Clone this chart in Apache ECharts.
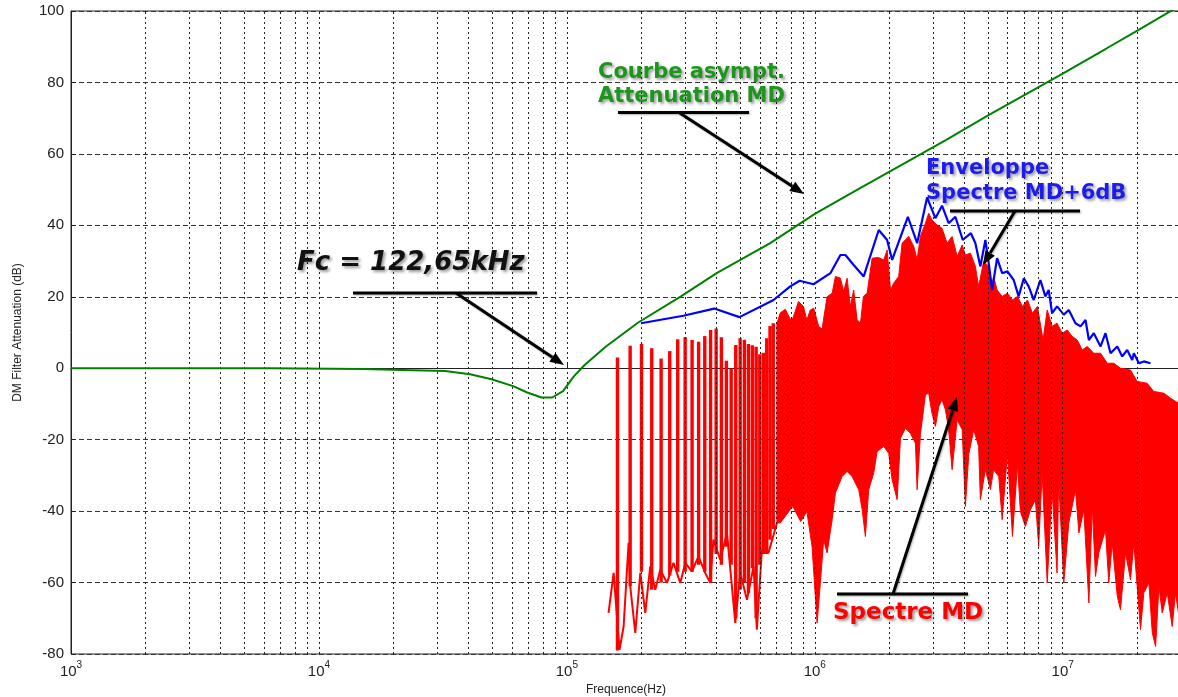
<!DOCTYPE html>
<html><head><meta charset="utf-8">
<script src="https://cdn.jsdelivr.net/npm/echarts@6/dist/echarts.min.js"></script>
<style>html,body{margin:0;padding:0;background:#fff}#c{width:1178px;height:697px}</style>
</head><body><div id="c"></div><script>
// ---- data (frequency in Hz, level in dB) ----
const xTickExponents = [3, 4, 5, 6, 7];
const yTicks = [-80, -60, -40, -20, 0, 20, 40, 60, 80, 100];

const greenFreq = [1000, 6350, 15060, 21680, 32300, 40700, 49700, 60700, 69200, 79000, 87300, 96500, 106700, 117900, 143800, 194000, 288500, 402000, 661000, 1000000, 1530000, 3390000, 5000000, 10000000, 15000000, 20000000, 26700000, 30000000];
const greenVal  = [0, 0, -0.2, -0.5, -0.8, -1.7, -3.1, -5.0, -6.8, -8.2, -8.2, -6.4, -2.3, 0.9, 6.1, 12.8, 20.1, 26.6, 35.0, 43.2, 50.5, 63.9, 70.8, 82.5, 89.5, 94.5, 99.6, 101.5];

const blueFreq = [199000, 295000, 393000, 497000, 682000, 796000, 869000, 988000, 1156000, 1269000, 1329000, 1435000, 1575000, 1811000, 1958000, 2051000, 2374000, 2587000, 2838000, 3065000, 3260000, 3468000, 3690000, 3953000, 4263000, 4444000, 4655000, 4876000, 5030000, 5190000, 5437000, 5700000, 5985000, 6344000, 6640000, 6970000, 7290000, 7640000, 8130000, 8510000, 8780000, 9060000, 9490000, 10100000, 10580000, 11260000, 11800000, 12360000, 12750000, 13350000, 14210000, 14880000, 15590000, 16600000, 17380000, 18200000, 19070000, 19360000, 20300000, 21240000, 22600000];
const blueVal  = [12.6, 14.7, 16.7, 14.3, 19.1, 22.9, 24.5, 23.5, 26.6, 31.7, 31.7, 28.9, 25.7, 38.7, 35.9, 30.3, 42.4, 35.0, 47.8, 42.0, 45.5, 40.6, 42.4, 35.9, 37.8, 35.0, 28.5, 35.9, 29.4, 21.9, 30.8, 26.6, 27.1, 24.7, 20.1, 25.2, 22.9, 19.1, 24.7, 20.1, 21.9, 15.4, 17.3, 15.0, 16.3, 12.6, 11.7, 13.5, 7.9, 9.8, 6.1, 9.8, 4.2, 6.1, 3.3, 5.1, 2.3, 4.2, 1.4, 1.9, 1.4];

// red spectrum: individual harmonics (20 kHz spacing) in the low band
const spikeFreq   = [160000, 180000, 200000, 220000, 240000, 260000, 280000, 300000, 320000, 340000, 360000, 380000, 400000, 420000, 440000, 460000, 480000, 500000, 520000, 540000, 560000, 580000, 600000, 620000, 640000, 660000, 680000];
const spikeTop    = [3.0, 6.3, 6.8, 5.6, 2.7, 4.8, 8.1, 8.7, 7.9, 7.4, 9.0, 10.7, 11.1, 8.7, 2.1, -0.1, 6.5, 8.4, 8.0, 6.8, 6.4, 6.0, 3.9, 4.3, 8.4, 11.8, 12.6];
const spikeBottom = [-79, -61, -57, -62, -60, -58, -57, -57, -57, -55, -57, -60, -52, -55, -50, -55, -70, -62, -60, -63, -56, -70, -55, -52, -52, -48, -45];

// red spectrum: noise floor in the low band
const floorFreq = [147300, 154400, 163100, 169400, 177400, 180200, 188800, 197800, 207100, 216900, 227300, 238100, 253400, 269300, 286700, 300300, 319300, 339500, 361500, 378700, 390000, 415700, 442300, 478000, 500600, 532600, 566400, 584000, 611800, 650300, 703500];
const floorVal  = [-68.5, -57.3, -78.8, -72.3, -48.9, -61.1, -74.1, -57.3, -68.5, -55.5, -62.0, -56.4, -60.1, -54.5, -60.1, -54.5, -56.9, -52.7, -57.3, -60.1, -48.0, -53.6, -46.1, -71.3, -57.3, -64.8, -55.5, -73.2, -50.8, -51.7, -43.3];

// red spectrum: dense band, upper and lower envelopes
const denseTopFreq = [703500, 726000, 761000, 796000, 816000, 860000, 900000, 929000, 959000, 990000, 1037000, 1070000, 1121000, 1175000, 1211000, 1269000, 1308000, 1350000, 1392000, 1435000, 1482000, 1528000, 1571000, 1626000, 1703000, 1805000, 1897000, 1958000, 2020000, 2080000, 2180000, 2250000, 2393000, 2510000, 2587000, 2666000, 2795000, 2880000, 2970000, 3115000, 3260000, 3417000, 3580000, 3752000, 3932000, 4050000, 4245000, 4444000, 4580000, 4800000, 5030000, 5190000, 5260000, 5437000, 5700000, 5985000, 6270000, 6570000, 6880000, 7210000, 7550000, 7910000, 8330000, 8660000, 9060000, 9490000, 9950000, 10430000, 10920000, 11440000, 11990000, 12560000, 13350000, 14210000, 15130000, 16080000, 17100000, 18770000, 19970000, 21900000, 23300000, 25600000, 27250000, 29300000, 30000000];
const denseTopVal  = [12.6, 15.5, 16.5, 13.7, 14.0, 18.7, 17.3, 13.5, 16.3, 16.8, 11.7, 11.0, 20.0, 21.0, 25.7, 25.2, 21.5, 25.2, 17.3, 21.9, 13.5, 12.6, 20.1, 21.0, 30.8, 31.0, 30.3, 33.1, 21.9, 23.8, 25.7, 35.0, 36.9, 34.0, 30.3, 36.9, 40.6, 43.4, 41.5, 40.1, 39.2, 35.0, 36.9, 31.3, 34.5, 31.7, 32.2, 28.5, 22.9, 29.9, 28.5, 22.9, 25.7, 21.9, 20.1, 21.0, 19.1, 20.1, 17.3, 19.1, 15.4, 17.3, 7.9, 16.3, 11.7, 12.6, 9.8, 10.7, 8.9, 7.9, 5.1, 6.1, 4.2, 4.2, 1.4, 1.4, 0.0, -0.5, -3.7, -4.2, -6.5, -7.0, -8.4, -9.8, -10.0];
const denseBotFreq = [703500, 726000, 796000, 816000, 877000, 929000, 975000, 1022000, 1053000, 1086000, 1121000, 1175000, 1211000, 1289000, 1350000, 1414000, 1504000, 1553000, 1600000, 1650000, 1729000, 1784000, 1897000, 1987000, 2051000, 2149000, 2216000, 2320000, 2430000, 2547000, 2587000, 2666000, 2795000, 2880000, 2970000, 3065000, 3163000, 3260000, 3364000, 3468000, 3580000, 3752000, 3932000, 4050000, 4180000, 4375000, 4580000, 4655000, 4876000, 5110000, 5260000, 5520000, 5700000, 5985000, 6270000, 6570000, 6750000, 7070000, 7410000, 7760000, 8000000, 8260000, 8660000, 9060000, 9490000, 9630000, 10100000, 10580000, 11260000, 11620000, 12170000, 12750000, 13160000, 13560000, 13980000, 14880000, 15340000, 15840000, 16600000, 17100000, 17920000, 18770000, 19360000, 19970000, 20600000, 21240000, 22260000, 22980000, 23700000, 24440000, 25200000, 26400000, 27650000, 28500000, 29300000, 30000000];
const denseBotVal  = [-43.3, -43.3, -39.6, -38.7, -42.9, -40.1, -49.9, -71.3, -60.1, -48.0, -51.7, -42.4, -34.9, -30.3, -28.9, -30.3, -34.0, -39.6, -47.1, -34.0, -29.3, -23.3, -21.9, -23.8, -31.2, -36.8, -19.6, -16.8, -18.2, -21.0, -34.0, -18.6, -7.4, -7.0, -12.6, -16.3, -10.7, -8.8, -11.6, -17.2, -28.4, -14.4, -17.2, -38.7, -24.0, -17.2, -21.9, -36.8, -28.4, -34.0, -28.4, -30.3, -42.4, -23.8, -47.1, -27.0, -40.1, -44.3, -39.6, -36.8, -49.9, -29.3, -60.1, -34.0, -57.3, -31.2, -60.1, -43.3, -34.0, -46.1, -39.6, -65.7, -38.7, -58.3, -51.7, -45.2, -60.1, -48.9, -63.8, -67.6, -51.7, -59.2, -48.9, -61.1, -73.2, -62.9, -60.1, -74.1, -77.9, -61.1, -68.5, -62.9, -72.3, -62.9, -68.5, -66.0];

// ---- build ----
const pairs = (a, b) => a.slice(0, Math.min(a.length, b.length)).map((v, i) => [v, b[i]]);
const gridFreqs = [];
for (let e = 3; e <= 7; e++) for (let m = 1; m <= 9; m++) { const f = m * Math.pow(10, e); if (f > 1000 && f < 3e7) gridFreqs.push(f); }

const chart = echarts.init(document.getElementById('c'), null, {renderer: 'canvas'});
const FONT = '"Liberation Sans", Arial, sans-serif';
const LBL = '"DejaVu Sans", Verdana, sans-serif';

function arrow(x1, y1, x2, y2) {
  const a = Math.atan2(y2 - y1, x2 - x1), L = 14, H = 5.5;
  const bx = x2 - L * Math.cos(a), by = y2 - L * Math.sin(a);
  const px = -Math.sin(a) * H, py = Math.cos(a) * H;
  return [
    {type: 'line', z: 100, shape: {x1, y1, x2: bx, y2: by}, style: {stroke: '#000', lineWidth: 3, shadowColor: 'rgba(0,0,0,0.3)', shadowBlur: 2, shadowOffsetX: 1, shadowOffsetY: 1}},
    {type: 'polygon', z: 100, shape: {points: [[x2, y2], [bx + px, by + py], [bx - px, by - py]]}, style: {fill: '#000'}}
  ];
}
function hline(x1, x2, y) {
  return {type: 'line', z: 100, shape: {x1, y1: y, x2, y2: y}, style: {stroke: '#000', lineWidth: 3, shadowColor: 'rgba(0,0,0,0.3)', shadowBlur: 2, shadowOffsetX: 1, shadowOffsetY: 1}};
}
function label(x, y, text, font, color) {
  return {type: 'text', z: 101, x, y, style: {text, font, fill: color, align: 'left', verticalAlign: 'middle',
    textShadowColor: 'rgba(0,0,0,0.4)', textShadowBlur: 3, textShadowOffsetX: 2, textShadowOffsetY: 2}};
}

const option = {
  animation: false,
  backgroundColor: '#fff',
  grid: {left: 71, right: -3, top: 11, bottom: 43, show: true, borderColor: '#222', borderWidth: 1, containLabel: false, outerBoundsMode: 'none'},
  xAxis: {
    type: 'log', logBase: 10, min: 1000, max: 3e7,
    axisLine: {show: true, lineStyle: {color: '#222', width: 1}},
    axisTick: {show: true, inside: true, length: 5, lineStyle: {color: '#222'}},
    splitLine: {show: false},
    axisLabel: {
      margin: 6, color: '#222',
      formatter: function (v) {
        const e = Math.round(Math.log10(v));
        if (Math.abs(Math.log10(v) - e) > 1e-6 || xTickExponents.indexOf(e) < 0) return '';
        return '{a|10}{b|' + e + '}';
      },
      rich: {
        a: {fontSize: 15, fontFamily: FONT, color: '#222', verticalAlign: 'bottom'},
        b: {fontSize: 10, fontFamily: FONT, color: '#222', verticalAlign: 'bottom', padding: [0, 0, 9, 0]}
      }
    },
    name: 'Frequence(Hz)', nameLocation: 'middle', nameGap: 27,
    nameTextStyle: {fontFamily: FONT, fontSize: 12, color: '#222'}
  },
  yAxis: {
    type: 'value', min: yTicks[0], max: yTicks[yTicks.length - 1], interval: yTicks[1] - yTicks[0],
    axisLine: {show: true, lineStyle: {color: '#222', width: 1}},
    axisTick: {show: true, inside: true, length: 5, lineStyle: {color: '#222'}},
    splitLine: {show: true, lineStyle: {color: '#333', width: 1, type: [5, 3]}},
    axisLabel: {fontSize: 15, fontFamily: FONT, color: '#222', margin: 7},
    name: 'DM Filter Attenuation (dB)', nameLocation: 'middle', nameGap: 47,
    nameTextStyle: {fontFamily: FONT, fontSize: 12, color: '#222'}
  },
  series: [
    {type: 'line', z: 1, silent: true, data: [[1000, -80]], symbol: 'none', lineStyle: {opacity: 0},
     markLine: {silent: true, symbol: ['none', 'none'], label: {show: false}, animation: false,
       lineStyle: {color: '#222', type: [2, 3], width: 1},
       data: gridFreqs.map(f => ({xAxis: f}))}},
    {type: 'line', z: 3, data: pairs(floorFreq, floorVal), symbol: 'none', lineStyle: {color: '#ff0000', width: 2}},
    {type: 'custom', z: 3, clip: true, data: spikeFreq.map((f, i) => [f, spikeTop[i], spikeBottom[i]]),
     encode: {x: 0, y: [1, 2]},
     renderItem: function (params, api) {
       const p1 = api.coord([api.value(0), api.value(1)]);
       const p2 = api.coord([api.value(0), api.value(2)]);
       return {type: 'line', shape: {x1: p1[0], y1: p1[1], x2: p2[0], y2: p2[1]}, style: {stroke: '#ff0000', lineWidth: 3.4}};
     }},
    {type: 'custom', z: 3, clip: true, data: [[denseTopFreq[0], denseTopVal[0]]],
     renderItem: function (params, api) {
       const top = pairs(denseTopFreq, denseTopVal).map(p => api.coord(p));
       const bot = pairs(denseBotFreq, denseBotVal).map(p => api.coord(p)).reverse();
       return {type: 'polygon', shape: {points: top.concat(bot)}, style: {fill: '#ff0000', stroke: '#ff0000', lineWidth: 1}};
     }},
    {type: 'line', z: 4, data: pairs(blueFreq, blueVal), symbol: 'none', lineStyle: {color: '#0000ff', width: 2.2}},
    {type: 'line', z: 5, data: pairs(greenFreq, greenVal), symbol: 'none', lineStyle: {color: '#008000', width: 2}}
  ],
  graphic: [].concat(
    [label(297, 263, 'Fc = 122,65kHz', 'italic bold 26px ' + LBL, '#111'), hline(353, 537, 293)], arrow(456, 293, 564, 365),
    [label(598, 73, 'Courbe asympt.', 'bold 21px ' + LBL, '#1e961e'), label(598, 97, 'Attenuation MD', 'bold 21px ' + LBL, '#1e961e'), hline(618, 749, 112.5)], arrow(679, 112.5, 804, 194),
    [label(926, 169, 'Enveloppe', 'bold 21px ' + LBL, '#1c1cf0'), label(926, 194, 'Spectre MD+6dB', 'bold 21px ' + LBL, '#1c1cf0'), hline(950, 1080, 211)], arrow(1015, 211, 983, 265),
    [label(833, 613, 'Spectre MD', 'bold 23px ' + LBL, '#ff0000'), hline(837, 968, 594)], arrow(893, 594, 957, 397)
  )
};
chart.setOption(option);
</script></body></html>
